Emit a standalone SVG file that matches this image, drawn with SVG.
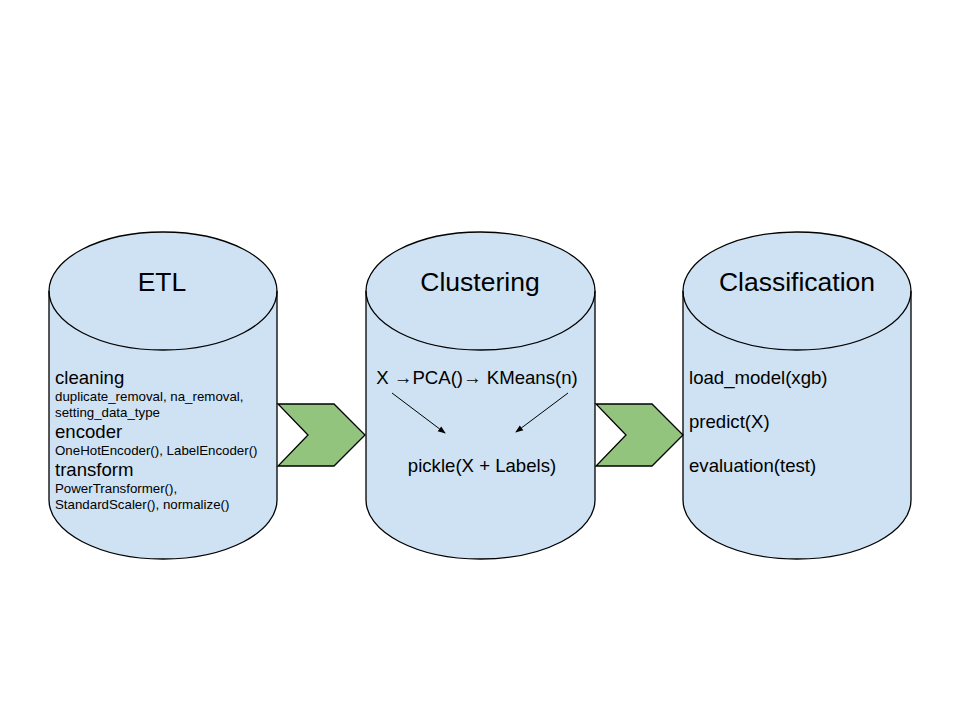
<svg xmlns="http://www.w3.org/2000/svg" width="960" height="720" viewBox="0 0 960 720">
<style>
.cyl{fill:#cfe2f3;stroke:#000;stroke-width:1.3}
.chev{fill:#93c47d;stroke:#000;stroke-width:1.3}
.t{font-family:"Liberation Sans",Arial,sans-serif;fill:#000}
.title{font-size:26.5px;text-anchor:middle}
.big{font-size:18.6px}
.small{font-size:13.3px}
.ln{stroke:#000;stroke-width:1;fill:none}
</style>
<defs>
<marker id="ah" markerWidth="8" markerHeight="8" refX="7" refY="4" orient="auto" markerUnits="userSpaceOnUse">
<path d="M0,1 L8,4 L0,7 Z" fill="#000"/>
</marker>
</defs>
<rect width="960" height="720" fill="#fff"/>
<g id="etl">
<path class="cyl" d="M49,291 A114,59 0 0 1 277,291 L277,500 A114,59 0 0 1 49,500 Z"/>
<path class="cyl" d="M49,291 A114,59 0 0 0 277,291" style="fill:none"/>
<text class="t title" x="162" y="291">ETL</text>
<text class="t big" x="55" y="384">cleaning</text>
<text class="t small" x="55" y="401">duplicate_removal, na_removal,</text>
<text class="t small" x="55" y="417">setting_data_type</text>
<text class="t big" x="55" y="438">encoder</text>
<text class="t small" x="55" y="455">OneHotEncoder(), LabelEncoder()</text>
<text class="t big" x="55" y="476">transform</text>
<text class="t small" x="55" y="493">PowerTransformer(),</text>
<text class="t small" x="55" y="509">StandardScaler(), normalize()</text>
</g>
<g id="clustering">
<path class="cyl" d="M366,291 A114.5,59 0 0 1 595,291 L595,500 A114.5,59 0 0 1 366,500 Z"/>
<path class="cyl" d="M366,291 A114.5,59 0 0 0 595,291" style="fill:none"/>
<text class="t title" x="480" y="291">Clustering</text>
<text class="t big" x="477" y="384" text-anchor="middle">X →PCA()→ KMeans(n)</text>
<text class="t big" x="482" y="472" text-anchor="middle">pickle(X + Labels)</text>
</g>
<g id="classification">
<path class="cyl" d="M683,291 A114,59 0 0 1 911,291 L911,500 A114,59 0 0 1 683,500 Z"/>
<path class="cyl" d="M683,291 A114,59 0 0 0 911,291" style="fill:none"/>
<text class="t title" x="797" y="291">Classification</text>
<text class="t big" x="689" y="384">load_model(xgb)</text>
<text class="t big" x="689" y="428">predict(X)</text>
<text class="t big" x="689" y="472">evaluation(test)</text>
</g>
<g id="connectors">
<polygon class="chev" points="278,404 334,404 365,435 334,466 278,466 308,435"/>
<polygon class="chev" points="596,404 652,404 683,435 652,466 596,466 626,435"/>
<line class="ln" x1="392" y1="393" x2="445" y2="433" marker-end="url(#ah)"/>
<line class="ln" x1="568" y1="393" x2="516" y2="432" marker-end="url(#ah)"/>
</g>
</svg>
